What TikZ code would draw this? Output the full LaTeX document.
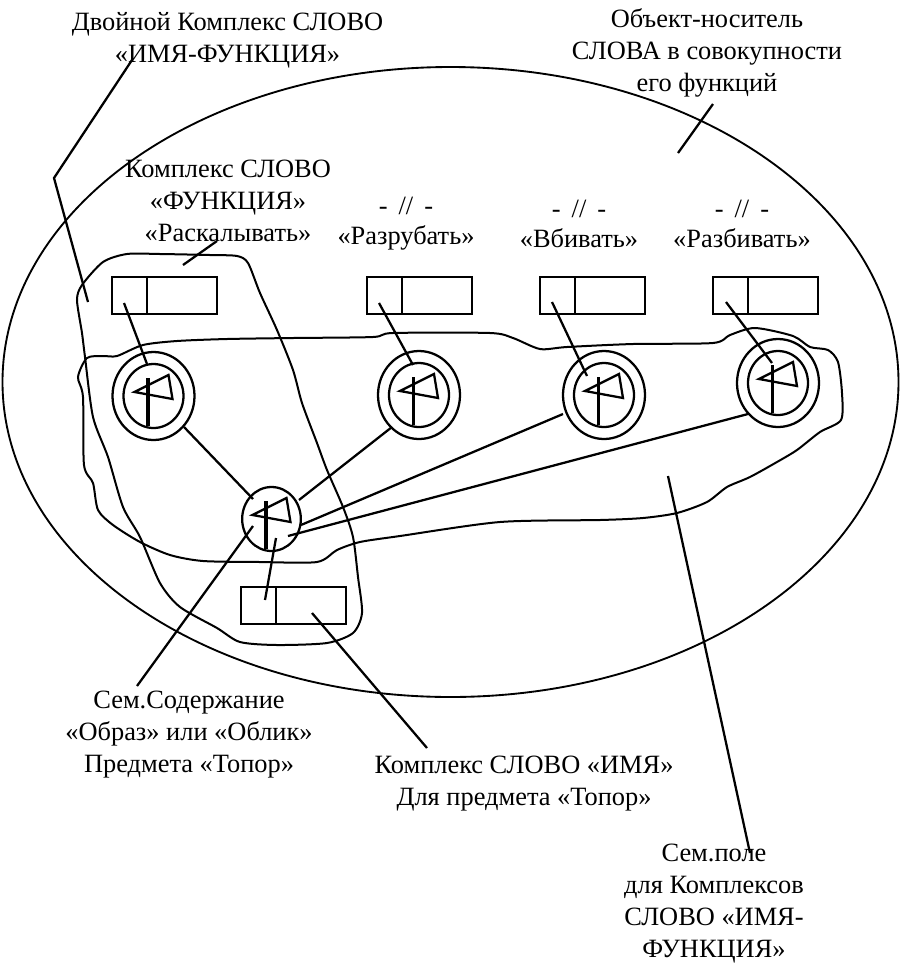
\documentclass[tikz,border=0pt]{standalone}
\usepackage{fontspec}
\usetikzlibrary{shapes.geometric}
\setmainfont{Liberation Serif}
\tikzset{
  every node/.style={inner sep=0pt,outer sep=0pt},
  ink/.style={line width=1.7pt,black},
  blobline/.style={line width=1.5pt,black},
  label/.style={align=center,font=\fontsize{19.8}{24}\selectfont,text=black},
  cell/.style={draw,line width=1.6pt,minimum height=27.75pt},
  small cell/.style={cell,minimum width=26.25pt},
  big cell/.style={cell,minimum width=52.5pt},
  ring/.style={ellipse,draw,line width=1.7pt,minimum width=61.5pt,minimum height=66pt},
  core/.style={ellipse,draw,line width=1.7pt,minimum width=45pt,minimum height=48pt},
  hub/.style={ellipse,draw,line width=1.7pt,minimum width=44pt,minimum height=48pt},
}
\newcommand{\axe}[2]{%
  \draw[line width=2.5pt] (#1-5.5,#2-18) -- (#1-5.5,#2+30);
  \draw[line width=1.7pt,line join=miter] (#1-19,#2-4) -- (#1+15,#2-21) -- (#1+19,#2+3) -- cycle;
}
\newcommand{\ditto}{-\hspace{.42em}//\hspace{.42em}-}
\begin{document}
\begin{tikzpicture}[x=.75pt,y=-.75pt]
\useasboundingbox (0,0) rectangle (901,965);
\fill[white] (0,0) rectangle (901,965);
% outer ellipse
\node[ellipse,draw,line width=1.4pt,minimum width=672pt,minimum height=472.5pt] (carrier) at (450.5,382) {};
% word rectangles
\foreach \n/\x/\y in {a/112/277,b/367/277,c/540/277,d/713/277,e/241/587}{
  \node[small cell,anchor=north west] (\n1) at (\x,\y) {};
  \node[big cell,anchor=north west] (\n2) at (\x+35,\y) {};
}
% rings
\foreach \n/\x/\y in {a/153.5/396,b/419/395,c/604/395,d/778/383}{
  \node[ring] (r\n) at (\x,\y) {};
  \node[core] (k\n) at (\x,\y) {};
  \axe{\x}{\y}
}
\node[hub] (hub) at (271.5,519) {};
\axe{271.5}{519}
% blobs
\draw[blobline] plot[smooth cycle,tension=.45] coordinates {
 (103,262)(127,254)(160,254)(210,255)(237,256)(248,263)(260,293)(277,330)(293,370)(302,403)(317,443)(327,470)(343,507)(353,537)(358,577)(362,613)(353,633)(327,643)(277,645)(240,642)(217,628)(180,607)(160,583)(140,537)(123,507)(108,457)(93,417)(85,357)(82,333)(77,300)(82,285)};
\draw[blobline] plot[smooth cycle,tension=.45] coordinates {
 (87,358)(103,356)(117,356)(143,345)(177,341)(227,339)(293,338)(373,337)(393,333)(490,333)(513,338)(540,349)(567,347)(633,344)(713,343)(730,335)(755,328)(793,336)(810,347)(828,350)(838,362)(842,393)(841,420)(820,432)(797,450)(777,462)(750,477)(727,487)(707,502)(677,513)(643,518)(600,520)(500,522)(400,536)(360,542)(337,550)(317,562)(260,562)(203,561)(170,555)(140,542)(113,525)(98,510)(93,483)(84,465)(83,397)(78,377)};
% free ends
\coordinate (a0) at (124,303); \coordinate (at) at (147,364);
\coordinate (b0) at (379,303); \coordinate (bt) at (413,365);
\coordinate (c0) at (552,302); \coordinate (ct) at (587,376);
\coordinate (d0) at (726,302); \coordinate (dt) at (772,363);
\coordinate (e0) at (265,600); \coordinate (et) at (276,538);
\coordinate (ra) at (184,427); \coordinate (ha) at (253,499);
\coordinate (rb) at (392,427); \coordinate (hb) at (299,500);
\coordinate (rc) at (563,414); \coordinate (hc) at (301,525);
\coordinate (rd) at (748,414); \coordinate (hd) at (288,536);
\coordinate (hs) at (253,526); \coordinate (ss) at (137,686);
\coordinate (e2f) at (312,613); \coordinate (se) at (427,748);
\coordinate (f0) at (668,476); \coordinate (f1) at (750,853);
\coordinate (o0) at (678,153); \coordinate (o1) at (713,104);
\coordinate (w0) at (88,302); \coordinate (w1) at (54,178); \coordinate (w2) at (132,60);
\coordinate (q0) at (183,265); \coordinate (q1) at (217,241);
% connectors
\foreach \p/\q in {a0/at,b0/bt,c0/ct,d0/dt,e0/et,ra/ha,rb/hb,rc/hc,rd/hd,hs/ss,e2f/se,f0/f1,o0/o1,q0/q1}
  \draw[ink] (\p) -- (\q);
\draw[ink] (w0) -- (w1) -- (w2);
% labels
\node[label] (t1) at (227.5,40) {Двойной Комплекс СЛОВО\\«ИМЯ-ФУНКЦИЯ»};
\node[label] (t2) at (707,53) {Объект-носитель\\СЛОВА в совокупности\\его функций};
\node[label] (t3) at (228,201) {Комплекс СЛОВО\\«ФУНКЦИЯ»\\«Раскалывать»};
\node[label] (t4) at (406,224) {\ditto\\[-1.5pt]«Разрубать»};
\node[label] (t5) at (579,224) {\ditto\\[-1.5pt]«Вбивать»};
\node[label] (t6) at (742,224) {\ditto\\[-1.5pt]«Разбивать»};
\node[label] (t7) at (189,735) {Сем.Содержание\\«Образ» или «Облик»\\Предмета «Топор»};
\node[label] (t8) at (524,784) {Комплекс СЛОВО «ИМЯ»\\Для предмета «Топор»};
\node[label] (t9) at (714,904) {Сем.поле\\для Комплексов\\СЛОВО «ИМЯ-\\ФУНКЦИЯ»};
\end{tikzpicture}
\end{document}
